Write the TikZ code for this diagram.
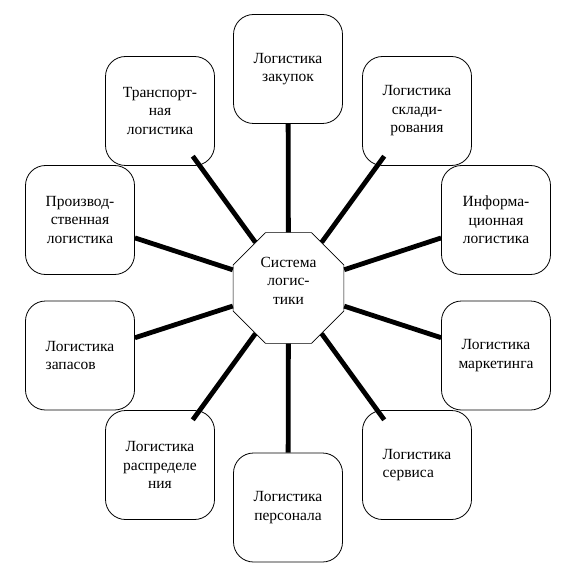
\documentclass[tikz,border=0pt]{standalone}
\usepackage{fontspec}
\setmainfont{Liberation Serif}
\usetikzlibrary{shapes.geometric}
\begin{document}
\begin{tikzpicture}[x=1pt,y=-1pt,
  txt/.style={font=\fontsize{15.5}{18.5}\selectfont},
  box/.style={txt, draw, line width=0.8pt, rounded corners=20pt,
    minimum width=109pt, minimum height=109pt, inner sep=2pt, align=center},
  hub/.style={txt, draw, line width=0.6pt, regular polygon, regular polygon sides=8,
    minimum size=120pt, inner sep=0pt, align=center},
  link/.style={line width=4.8pt},
  diag/.style={link, shorten >=-12pt}]
\useasboundingbox (0,0) rectangle (577,577);
\fill[white] (0,0) rectangle (577,577);

\node[hub] (c) at (288.5,288) {\raisebox{6pt}[\height][\depth]{\begin{tabular}{@{}c@{}}Система\\логис-\\тики\end{tabular}}};

\node[box] (zak)  at (288,69)    {Логистика\\закупок};
\node[box] (tr)   at (160,111)   {Транспорт-\\ная\\логистика};
\node[box] (pr)   at (80,220)    {Производ-\\ственная\\логистика};
\node[box] (skl)  at (417,111)   {Логистика\\склади-\\рования};
\node[box] (inf)  at (496,220)   {Информа-\\ционная\\логистика};
\node[box] (mar)  at (496,355.5) {Логистика\\маркетинга};
\node[box,align=left] (ser)  at (417,465)   {Логистика\\сервиса};
\node[box] (per)  at (288,507.5) {Логистика\\персонала};
\node[box] (ras)  at (160,465)   {Логистика\\распределе\\ния};
\node[box,align=left] (zap)  at (80,355.5)  {Логистика\\запасов};

\draw[link] (c) -- (zak);
\draw[link] (c) -- (per);
\draw[link] (c) -- (pr);
\draw[link] (c) -- (inf);
\draw[link] (c) -- (mar);
\draw[link] (c) -- (zap);
\draw[diag] (c) -- (tr);
\draw[diag] (c) -- (skl);
\draw[diag] (c) -- (ser);
\draw[diag] (c) -- (ras);
\end{tikzpicture}
\end{document}
